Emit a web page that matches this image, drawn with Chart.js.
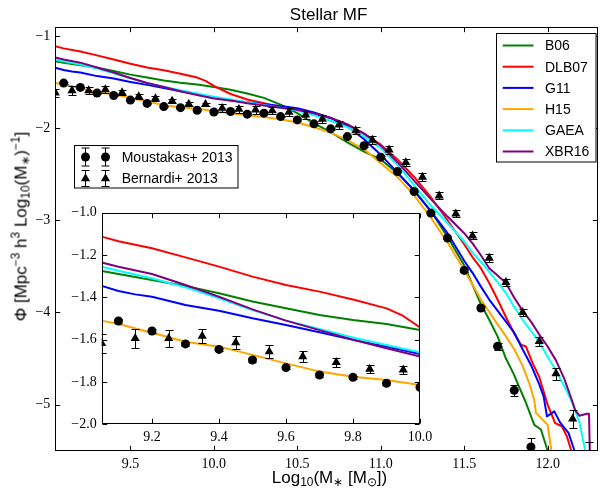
<!DOCTYPE html>
<html><head><meta charset="utf-8">
<script src="https://cdn.jsdelivr.net/npm/chart.js@4.4.1/dist/chart.umd.min.js"></script>
<style>
html,body{margin:0;padding:0;background:#fff;}
#wrap{position:relative;width:603px;height:493px;overflow:hidden;background:#fff;}
canvas{position:absolute;}
#main{left:0;top:0;}
#inset{left:40px;top:195px;}
.lbl{position:absolute;font-family:"Liberation Sans",Arial,sans-serif;color:#000;white-space:nowrap;line-height:1;text-align:center;}
.lbl sub,.lbl sup{font-size:70%;line-height:0;}
.lbl sub{vertical-align:-0.28em;}
.lbl sup{vertical-align:0.55em;}
</style></head>
<body>
<div id="wrap">
<canvas id="main" width="603" height="493"></canvas>
<canvas id="inset" width="410" height="255"></canvas>
<div class="lbl" style="left:228.6px;top:5.6px;width:200px;font-size:17px;">Stellar MF</div>
<div class="lbl" style="left:229.5px;top:469px;width:200px;font-size:17px;">Log<sub>10</sub>(M<sub>∗</sub> [M<sub>⊙</sub>])</div>
<div class="lbl" style="left:-129.2px;top:217.5px;width:300px;height:17px;font-size:17px;transform:rotate(-90deg);">Φ [Mpc<sup>−3</sup> h<sup>3</sup> Log<sub>10</sub>(M<sub>∗</sub>)<sup>−1</sup>]</div>
</div>
<script>
// ---------------- data ----------------
const mousMass = [9.1,9.2,9.3,9.4,9.5,9.6,9.7,9.8,9.9,10.0,10.1,10.2,10.3,10.4,10.5,10.6,10.7,10.8,10.9,11.0,11.1,11.2,11.3,11.4,11.5,11.6,11.7,11.8,11.9];
const mousPhi  = [-1.512,-1.559,-1.620,-1.646,-1.696,-1.732,-1.767,-1.778,-1.806,-1.825,-1.820,-1.849,-1.838,-1.875,-1.911,-1.954,-2.008,-2.092,-2.192,-2.315,-2.471,-2.688,-2.922,-3.193,-3.544,-3.952,-4.368,-4.845,-5.459];
const mousErr  = [0.008,0.008,0.008,0.008,0.008,0.008,0.008,0.008,0.008,0.008,0.008,0.008,0.008,0.008,0.008,0.008,0.008,0.008,0.008,0.008,0.010,0.010,0.012,0.015,0.020,0.025,0.035,0.060,0.100];

const berMass = [9.05,9.15,9.25,9.35,9.45,9.55,9.65,9.75,9.85,9.95,10.05,10.15,10.25,10.35,10.45,10.55,10.65,10.75,10.85,10.95,11.05,11.15,11.25,11.35,11.45,11.55,11.65,11.75,11.85,11.95,12.05,12.15,12.25];
const berPhi  = [-1.617,-1.594,-1.594,-1.583,-1.614,-1.657,-1.680,-1.707,-1.739,-1.743,-1.784,-1.795,-1.802,-1.810,-1.827,-1.856,-1.903,-1.965,-2.027,-2.131,-2.236,-2.373,-2.532,-2.734,-2.930,-3.168,-3.410,-3.674,-3.999,-4.314,-4.664,-5.155,-5.580];
const berErr  = [0.045,0.046,0.040,0.035,0.030,0.030,0.025,0.020,0.020,0.020,0.040,0.040,0.040,0.040,0.040,0.040,0.040,0.040,0.040,0.040,0.040,0.040,0.040,0.040,0.040,0.040,0.040,0.040,0.040,0.045,0.065,0.095,0.170];

const b06Mass = [9.05,9.1,9.2,9.3,9.4,9.5,9.6,9.7,9.8,9.9,10.0,10.1,10.2,10.3,10.4,10.5,10.6,10.7,10.8,10.9,11.0,11.1,11.2,11.3,11.4,11.5,11.55,11.6,11.65,11.7,11.75,11.8,11.82,11.87,11.92,11.96,12.0,12.02];
const b06Phi  = [-1.276,-1.290,-1.318,-1.346,-1.381,-1.420,-1.452,-1.483,-1.507,-1.526,-1.554,-1.585,-1.625,-1.672,-1.745,-1.838,-1.950,-2.045,-2.155,-2.255,-2.340,-2.490,-2.670,-2.900,-3.180,-3.490,-3.700,-3.910,-4.080,-4.260,-4.500,-4.680,-4.770,-4.980,-5.220,-5.270,-5.500,-5.700];

const dlb07Mass = [9.05,9.1,9.2,9.3,9.4,9.5,9.6,9.7,9.8,9.9,9.95,10.0,10.1,10.2,10.3,10.4,10.5,10.6,10.7,10.8,10.9,11.0,11.1,11.2,11.3,11.4,11.5,11.55,11.6,11.65,11.7,11.75,11.8,11.84,11.87,11.91,11.95,12.0,12.045,12.085,12.115,12.14,12.17];
const dlb07Phi  = [-1.113,-1.135,-1.168,-1.211,-1.255,-1.302,-1.342,-1.373,-1.410,-1.452,-1.488,-1.542,-1.630,-1.690,-1.730,-1.770,-1.800,-1.840,-1.890,-1.960,-2.060,-2.180,-2.340,-2.530,-2.750,-3.000,-3.260,-3.400,-3.520,-3.680,-3.860,-4.050,-4.230,-4.350,-4.370,-4.550,-4.700,-5.000,-5.200,-5.235,-5.344,-5.490,-5.700];

const g11Mass = [9.05,9.1,9.15,9.2,9.3,9.4,9.5,9.6,9.7,9.8,9.9,10.0,10.1,10.2,10.3,10.4,10.5,10.6,10.7,10.8,10.9,11.0,11.1,11.2,11.3,11.4,11.5,11.55,11.6,11.65,11.7,11.75,11.8,11.85,11.9,11.95,11.976,11.996,12.04,12.076,12.125,12.159,12.19];
const g11Phi  = [-1.346,-1.370,-1.386,-1.397,-1.436,-1.463,-1.499,-1.531,-1.565,-1.601,-1.633,-1.668,-1.700,-1.720,-1.740,-1.760,-1.785,-1.830,-1.890,-1.980,-2.120,-2.290,-2.480,-2.680,-2.900,-3.140,-3.440,-3.570,-3.720,-3.860,-3.980,-4.100,-4.220,-4.400,-4.570,-4.780,-4.910,-5.127,-5.073,-5.198,-5.307,-5.490,-5.700];

const h15Mass = [9.05,9.1,9.2,9.3,9.4,9.5,9.6,9.7,9.8,9.9,10.0,10.1,10.2,10.3,10.4,10.5,10.6,10.7,10.8,10.9,11.0,11.1,11.2,11.3,11.4,11.5,11.6,11.7,11.75,11.8,11.85,11.89,11.92,11.93,12.0,12.022,12.04];
const h15Phi  = [-1.510,-1.526,-1.567,-1.610,-1.633,-1.672,-1.712,-1.751,-1.775,-1.791,-1.814,-1.840,-1.860,-1.880,-1.905,-1.940,-1.990,-2.050,-2.130,-2.230,-2.380,-2.530,-2.730,-2.970,-3.240,-3.540,-3.860,-4.130,-4.260,-4.400,-4.580,-4.770,-4.950,-5.090,-5.220,-5.490,-5.700];

const gaeaMass = [9.05,9.1,9.2,9.3,9.4,9.5,9.6,9.7,9.8,9.9,10.0,10.1,10.2,10.3,10.4,10.5,10.6,10.7,10.8,10.9,11.0,11.1,11.2,11.3,11.4,11.5,11.55,11.6,11.65,11.7,11.75,11.8,11.85,11.9,11.95,12.0,12.05,12.1,12.15,12.19,12.22,12.25];
const gaeaPhi  = [-1.255,-1.274,-1.310,-1.353,-1.405,-1.460,-1.510,-1.550,-1.590,-1.625,-1.660,-1.690,-1.720,-1.750,-1.780,-1.810,-1.860,-1.920,-1.990,-2.090,-2.220,-2.400,-2.620,-2.840,-3.030,-3.230,-3.350,-3.450,-3.560,-3.670,-3.790,-3.940,-4.080,-4.200,-4.320,-4.480,-4.630,-4.800,-4.990,-5.190,-5.450,-5.750];

const xbr16Mass = [9.05,9.1,9.2,9.3,9.4,9.5,9.6,9.7,9.8,9.9,10.0,10.1,10.2,10.3,10.4,10.5,10.6,10.7,10.8,10.9,11.0,11.1,11.2,11.3,11.4,11.5,11.55,11.6,11.65,11.7,11.75,11.8,11.85,11.9,11.95,12.0,12.05,12.1,12.145,12.165,12.19,12.235,12.248,12.256];
const xbr16Phi  = [-1.235,-1.255,-1.290,-1.342,-1.397,-1.457,-1.510,-1.555,-1.600,-1.641,-1.680,-1.700,-1.730,-1.755,-1.780,-1.800,-1.840,-1.890,-1.960,-2.060,-2.190,-2.370,-2.570,-2.770,-2.960,-3.140,-3.250,-3.380,-3.520,-3.600,-3.680,-3.840,-3.980,-4.100,-4.240,-4.370,-4.520,-4.720,-4.950,-5.060,-5.120,-5.100,-5.100,-5.800];

const modelNames  = ['B06','DLB07','G11','H15','GAEA','XBR16'];
const modelMass   = [b06Mass, dlb07Mass, g11Mass, h15Mass, gaeaMass, xbr16Mass];
const modelPhi    = [b06Phi, dlb07Phi, g11Phi, h15Phi, gaeaPhi, xbr16Phi];
const modelColors = ['#008000','#ff0000','#0000ff','#ffa500','#00ffff','#800080'];
const obsNames    = ['Moustakas+ 2013','Bernardi+ 2013'];

const mainXTicks  = [9.5,10.0,10.5,11.0,11.5,12.0];
const mainYTicks  = [-5,-4,-3,-2,-1];
const insetXTicks = [9.2,9.4,9.6,9.8,10.0];
const insetYTicks = [-2.0,-1.8,-1.6,-1.4,-1.2,-1.0];

// ---------------- helpers ----------------
const pts = (xs, ys) => xs.map((v, i) => ({ x: v, y: ys[i] }));
const MINUS = '\u2212';
const TRI_R = 5.3, CIRC_R = 4.5;

function buildDatasets() {
  const ds = [];
  ds.push({ label: obsNames[0], data: pts(mousMass, mousPhi), errorBars: mousErr, showLine: false,
    pointStyle: 'circle', pointRadius: CIRC_R, pointBackgroundColor: '#000', pointBorderColor: '#000', pointBorderWidth: 0, clip: 0 });
  ds.push({ label: obsNames[1], data: pts(berMass, berPhi), errorBars: berErr, showLine: false,
    pointStyle: 'triangle', pointRadius: TRI_R, pointBackgroundColor: '#000', pointBorderColor: '#000', pointBorderWidth: 0, clip: 0 });
  for (let i = modelNames.length - 1; i >= 0; i--) {
    ds.push({ label: modelNames[i], data: pts(modelMass[i], modelPhi[i]), borderColor: modelColors[i],
      borderWidth: 2, pointRadius: 0, tension: 0, fill: false, borderJoinStyle: 'round', clip: 0 });
  }
  return ds;
}

function axisX(min, max, ticks, fmt, h) {
  return {
    type: 'linear', position: 'bottom', min, max,
    afterBuildTicks: s => { s.ticks = ticks.map(v => ({ value: v })); },
    afterFit: s => { s.height = h; s.paddingLeft = 0; s.paddingRight = 0; },
    grid: { display: false, drawTicks: false }, border: { display: false },
    ticks: { autoSkip: false, maxRotation: 0, minRotation: 0, padding: 5, color: '#000',
      font: { family: 'Liberation Serif', size: 14 }, callback: v => fmt(v) }
  };
}
function axisY(min, max, ticks, fmt, w) {
  return {
    type: 'linear', position: 'left', min, max,
    afterBuildTicks: s => { s.ticks = ticks.map(v => ({ value: v })); },
    afterFit: s => { s.width = w; s.paddingTop = 0; s.paddingBottom = 0; },
    grid: { display: false, drawTicks: false }, border: { display: false },
    ticks: { autoSkip: false, padding: 5, color: '#000',
      font: { family: 'Liberation Serif', size: 14 }, callback: v => fmt(v) }
  };
}

const errorBarPlugin = {
  id: 'errorBars',
  afterDatasetsDraw(chart) {
    const { ctx, chartArea: a, scales: { x, y } } = chart;
    ctx.save();
    ctx.beginPath(); ctx.rect(a.left, a.top, a.right - a.left, a.bottom - a.top); ctx.clip();
    ctx.strokeStyle = '#000'; ctx.lineWidth = 1;
    chart.data.datasets.forEach(ds => {
      if (!ds.errorBars) return;
      ds.data.forEach((p, i) => {
        const e = ds.errorBars[i];
        const cx = Math.round(x.getPixelForValue(p.x)) + 0.5;
        const y1 = Math.round(y.getPixelForValue(p.y + e)) + 0.5;
        const y2 = Math.round(y.getPixelForValue(p.y - e)) + 0.5;
        ctx.beginPath();
        ctx.moveTo(cx, y1); ctx.lineTo(cx, y2);
        ctx.moveTo(cx - 4, y1); ctx.lineTo(cx + 4, y1);
        ctx.moveTo(cx - 4, y2); ctx.lineTo(cx + 4, y2);
        ctx.stroke();
      });
    });
    ctx.restore();
  }
};

const framePlugin = {
  id: 'frame',
  beforeDraw(chart, args, opts) {
    if (!opts.whiteBg) return;
    const { ctx, chartArea: a } = chart;
    ctx.save(); ctx.fillStyle = '#fff';
    ctx.fillRect(a.left, a.top, a.right - a.left, a.bottom - a.top);
    ctx.restore();
  },
  afterDraw(chart, args, opts) {
    const { ctx, chartArea: a, scales: { x, y } } = chart;
    const L = Math.round(a.left) + 0.5, R = Math.round(a.right) - 0.5;
    const T = Math.round(a.top) + 0.5, B = Math.round(a.bottom) - 0.5;
    const len = opts.len || 4.5;
    ctx.save();
    ctx.strokeStyle = '#000'; ctx.lineWidth = 1;
    ctx.beginPath();
    (opts.xTicks || []).forEach(v => {
      const px = Math.round(x.getPixelForValue(v)) + 0.5;
      ctx.moveTo(px, B); ctx.lineTo(px, B - len);
      ctx.moveTo(px, T); ctx.lineTo(px, T + len);
    });
    (opts.yTicks || []).forEach(v => {
      const py = Math.round(y.getPixelForValue(v)) + 0.5;
      ctx.moveTo(L, py); ctx.lineTo(L + len, py);
      ctx.moveTo(R, py); ctx.lineTo(R - len, py);
    });
    ctx.stroke();
    ctx.strokeRect(L, T, R - L, B - T);
    ctx.restore();
  }
};

function drawMarker(ctx, style, x, y, r) {
  ctx.beginPath();
  if (style === 'circle') {
    ctx.arc(x, y, r, 0, Math.PI * 2);
  } else {
    let rad = 0; const t = 2 * Math.PI / 3;
    ctx.moveTo(x + Math.sin(rad) * r, y - Math.cos(rad) * r); rad += t;
    ctx.lineTo(x + Math.sin(rad) * r, y - Math.cos(rad) * r); rad += t;
    ctx.lineTo(x + Math.sin(rad) * r, y - Math.cos(rad) * r);
    ctx.closePath();
  }
  ctx.fill();
}

const legendPlugin = {
  id: 'boxLegends',
  afterDraw(chart) {
    const ctx = chart.ctx;
    ctx.save();
    ctx.font = '14px "Liberation Sans", Arial, sans-serif';
    ctx.textBaseline = 'middle'; ctx.textAlign = 'left';
    // model legend
    ctx.fillStyle = '#fff'; ctx.fillRect(497, 33, 99, 129);
    ctx.strokeStyle = '#000'; ctx.lineWidth = 1; ctx.strokeRect(496.5, 33.5, 99.5, 128.5);
    modelNames.forEach((name, i) => {
      const yy = 45.5 + i * 21.2;
      ctx.strokeStyle = modelColors[i]; ctx.lineWidth = 2;
      ctx.beginPath(); ctx.moveTo(502.7, yy); ctx.lineTo(533.5, yy); ctx.stroke();
      ctx.fillStyle = '#000'; ctx.fillText(name, 545, yy + 1);
    });
    // observation legend
    ctx.fillStyle = '#fff'; ctx.fillRect(74, 145, 164, 43);
    ctx.strokeStyle = '#000'; ctx.lineWidth = 1; ctx.strokeRect(74.5, 145.5, 163.5, 42.5);
    const styles = ['circle', 'triangle'], radii = [CIRC_R, TRI_R], halfBar = [9, 8];
    obsNames.forEach((name, i) => {
      const yy = 157 + i * 21.5;
      [85.5, 105.5].forEach(mx => {
        ctx.fillStyle = '#000'; ctx.strokeStyle = '#000'; ctx.lineWidth = 1;
        ctx.beginPath();
        ctx.moveTo(mx, yy - halfBar[i]); ctx.lineTo(mx, yy + halfBar[i]);
        ctx.moveTo(mx - 4, yy - halfBar[i]); ctx.lineTo(mx + 4, yy - halfBar[i]);
        ctx.moveTo(mx - 4, yy + halfBar[i]); ctx.lineTo(mx + 4, yy + halfBar[i]);
        ctx.stroke();
        drawMarker(ctx, styles[i], mx, yy, radii[i]);
      });
      ctx.fillStyle = '#000'; ctx.fillText(name, 121.7, yy + 1);
    });
    ctx.restore();
  }
};

const common = {
  responsive: false, animation: false, events: [],
  plugins: { legend: { display: false }, title: { display: false }, tooltip: { enabled: false } }
};

new Chart(document.getElementById('main'), {
  type: 'line',
  data: { datasets: buildDatasets() },
  options: {
    ...common,
    layout: { padding: { left: 0, top: 26.7, right: 1, bottom: 0 } },
    plugins: { ...common.plugins, frame: { xTicks: mainXTicks, yTicks: mainYTicks, len: 4.7 } },
    scales: {
      x: axisX(9.05, 12.3, mainXTicks, v => v.toFixed(1), 42.3),
      y: axisY(-5.5, -0.9, mainYTicks, v => MINUS + Math.abs(v), 55.3)
    }
  },
  plugins: [errorBarPlugin, framePlugin, legendPlugin]
});

new Chart(document.getElementById('inset'), {
  type: 'line',
  data: { datasets: buildDatasets() },
  options: {
    ...common,
    layout: { padding: { left: 0, top: 17.7, right: 30, bottom: 0 } },
    plugins: { ...common.plugins, frame: { xTicks: insetXTicks, yTicks: insetYTicks, len: 4.7, whiteBg: true } },
    scales: {
      x: axisX(9.05, 10.0, insetXTicks, v => v.toFixed(1), 25.7),
      y: axisY(-2.0, -1.0, insetYTicks, v => MINUS + Math.abs(v).toFixed(1), 61.7)
    }
  },
  plugins: [errorBarPlugin, framePlugin]
});
</script>
</body></html>
